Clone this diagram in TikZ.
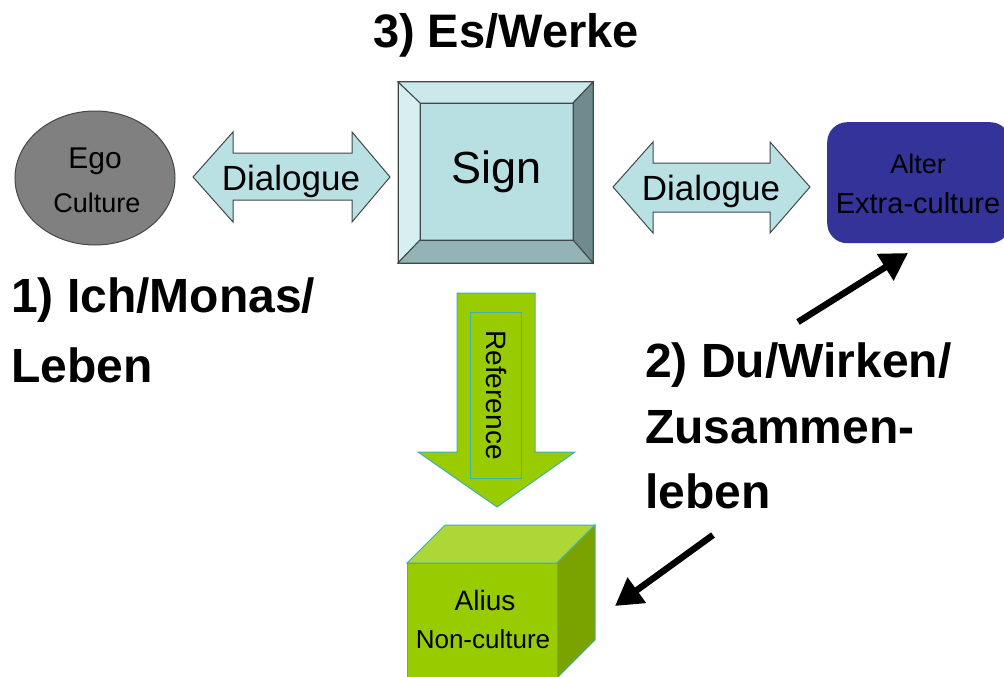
\documentclass[tikz,border=0pt]{standalone}
\usepackage{fontspec}
\setmainfont{Liberation Sans}
\usetikzlibrary{shapes.geometric,arrows.meta}

\definecolor{dlgfill}{HTML}{B9E1E4}
\definecolor{dlgline}{HTML}{404848}
\definecolor{signface}{HTML}{B8DFE2}
\definecolor{signtop}{HTML}{CBE8EB}
\definecolor{signleft}{HTML}{D6EFF1}
\definecolor{signright}{HTML}{6F8B8D}
\definecolor{signbottom}{HTML}{93B3B6}
\definecolor{egofill}{HTML}{808080}
\definecolor{alterfill}{HTML}{333399}
\definecolor{leaf}{HTML}{99CC00}
\definecolor{leaftop}{HTML}{AED636}
\definecolor{leafside}{HTML}{7BA300}
\definecolor{tealedge}{HTML}{3FAFB0}

\tikzset{
  fs/.style={font=\fontsize{#1}{#1}\selectfont},
  bfs/.style={font=\fontsize{#1}{#1}\selectfont\bfseries},
  lbl/.style={inner sep=0pt, anchor=base},
  head/.style={inner sep=0pt, anchor=base west, bfs=48},
  dlg/.style={fill=dlgfill, draw=dlgline, line width=1pt, line join=miter},
  bevel/.style={draw=dlgline, line width=1pt, line join=miter},
  leafshape/.style={draw=tealedge, line width=1pt, line join=miter},
  pointer/.style={line width=6.5pt, -{Triangle[length=27pt,width=30pt]}},
}

\begin{document}
\begin{tikzpicture}[x=1pt,y=-1pt]
\useasboundingbox (0,0) rectangle (1004,677);
\clip (0,0) rectangle (1004,677);

% Ego
\node[ellipse, fill=egofill, draw=dlgline, line width=1pt,
      minimum width=160pt, minimum height=134pt, inner sep=0pt] (ego) at (95,178) {};
\node[lbl, fs=30] (egoname) at (95,168) {Ego};
\node[lbl, fs=27] (egosub) at (97,212) {Culture};

% left dialogue arrow
\draw[dlg] (193,177) -- (233,132) -- (233,153) -- (352,153) -- (352,132) -- (390,177)
  -- (352,222) -- (352,200) -- (233,200) -- (233,222) -- cycle;
\node[lbl, fs=35] (dlgL) at (291,190) {Dialogue};

% Sign: bevelled box
\fill[signface] (420,103) rectangle (573,240);
\draw[bevel, fill=signtop]    (398,82) -- (593,82) -- (573,103) -- (420,103) -- cycle;
\draw[bevel, fill=signleft]   (398,82) -- (420,103) -- (420,240) -- (398,263) -- cycle;
\draw[bevel, fill=signright]  (593,82) -- (593,263) -- (573,240) -- (573,103) -- cycle;
\draw[bevel, fill=signbottom] (398,263) -- (593,263) -- (573,240) -- (420,240) -- cycle;
\draw[bevel] (420,103) rectangle (573,240);
\draw[bevel] (398,82) rectangle (593,263);
\node[lbl, fs=45] (sign) at (497,183) {Sign};

% right dialogue arrow
\draw[dlg] (613,187) -- (653,142) -- (653,163) -- (770,163) -- (770,142) -- (810,187)
  -- (770,233) -- (770,212) -- (653,212) -- (653,233) -- cycle;
\node[lbl, fs=35] (dlgR) at (711,200) {Dialogue};

% Alter
\node[draw=none, fill=alterfill, rounded corners=20pt, minimum width=183pt,
      minimum height=121pt, anchor=north west, inner sep=0pt] (alter) at (827,122) {};
\node[lbl, fs=27] (altername) at (918,173) {Alter};
\node[lbl, fs=29] (altersub) at (918,213) {Extra-culture};

% Reference arrow
\draw[leafshape, fill=leaf] (457,293) -- (535,293) -- (535,452) -- (575,452) -- (497,507)
  -- (418,452) -- (457,452) -- cycle;
\draw[leafshape] (470,312) rectangle (521,478);
\node[fs=28, rotate=-90, inner sep=0pt] (ref) at (496,395) {Reference};

% Alius cube
\draw[leafshape, fill=leaftop]  (407,563) -- (445,525) -- (595,525) -- (557,563) -- cycle;
\draw[leafshape, fill=leafside] (557,563) -- (595,525) -- (595,640) -- (557,678) -- cycle;
\draw[leafshape, fill=leaf]     (407,563) rectangle (557,690);
\node[lbl, fs=28] (alius) at (485,610) {Alius};
\node[lbl, fs=26] (aliussub) at (483,648) {Non-culture};

% headings
\node[lbl, bfs=47] (es) at (506,48) {3) Es/Werke};
\node[head] (ich1) at (11,312) {1) Ich/Monas/};
\node[head] (ich2) at (11,382) {Leben};
\node[head] (du1) at (645,377) {2) Du/Wirken/};
\node[head] (du2) at (645,443) {Zusammen-};
\node[head] (du3) at (645,508) {leben};

% pointers from the Du label
\coordinate (duUp) at (798,322);
\coordinate (alterIn) at (908,253);
\coordinate (duDown) at (713,535);
\coordinate (aliusIn) at (615,606);
\draw[pointer] (duUp) -- (alterIn);
\draw[pointer] (duDown) -- (aliusIn);
\end{tikzpicture}
\end{document}
